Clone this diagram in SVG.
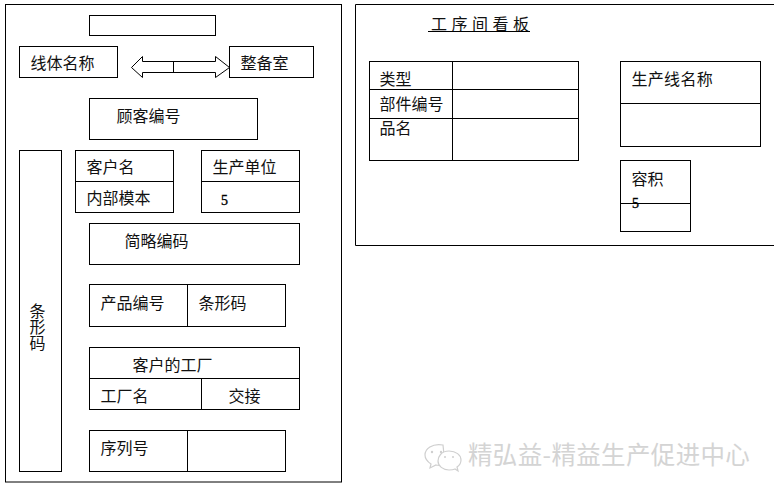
<svg xmlns="http://www.w3.org/2000/svg" width="774" height="493" viewBox="0 0 774 493">
<style>
rect,.l,.a{fill:none;stroke:#000;stroke-width:1}
rect{fill:#fff}
.a{fill:#fff}
text{font-family:"Noto Sans CJK SC","Liberation Sans",sans-serif;font-size:16px;fill:#111}
.n{font-family:"Liberation Serif",serif;font-size:14px;fill:#000;stroke:#000;stroke-width:.35}
.w{font-size:24.5px;fill:#d4d4d4;letter-spacing:.35px}
.i{fill:#fff;stroke:#cfcfcf;stroke-width:1.2}
.d{fill:#cfcfcf}
</style>
<rect width="774" height="493" style="stroke:none"/>
<g id="left-panel"><rect x="5.5" y="4.5" width="336" height="477.5"/></g>
<g id="right-panel"><path class="l" d="M775 4.5H355.5V245.5H775"/></g>
<g id="top-blank"><rect x="89.5" y="15.5" width="126" height="20"/></g>
<g id="line-name"><rect x="19.5" y="46.5" width="98" height="31"/><text x="30.5" y="69">线体名称</text></g>
<g id="prep-room"><rect x="229.5" y="46.5" width="84" height="31"/><text x="240.5" y="69">整备室</text></g>
<g id="connectors"><path class="a" d="M131.5 67.5L142.5 56.5V61.5H215.5V56.5L229.5 67.5L215.5 77.5V72.5H142.5V77.5Z"/><path class="l" d="M173.5 61.5V72.5"/></g>
<g id="customer-no"><rect x="89.5" y="98.5" width="168" height="41"/><text x="116.5" y="122">顾客编号</text></g>
<g id="barcode-side"><rect x="19.5" y="150.5" width="42" height="321"/><text x="37.5" y="303" style="writing-mode:vertical-rl;text-orientation:upright">条形码</text></g>
<g id="customer-name"><rect x="75.5" y="150.5" width="98" height="62"/><path class="l" d="M75.5 181.5H173.5"/><text x="86.5" y="173">客户名</text><text x="86.5" y="204">内部模本</text></g>
<g id="production-unit"><rect x="201.5" y="150.5" width="98" height="62"/><path class="l" d="M201.5 181.5H299.5"/><text x="212.5" y="173">生产单位</text><text class="n" x="221" y="205">5</text></g>
<g id="short-code"><rect x="89.5" y="223.5" width="210" height="41"/><text x="124.5" y="247">简略编码</text></g>
<g id="product-no"><rect x="89.5" y="284.5" width="196" height="42"/><path class="l" d="M187.5 284.5V326.5"/><text x="100.5" y="309">产品编号</text><text x="198.5" y="309">条形码</text></g>
<g id="customer-factory"><rect x="89.5" y="347.5" width="210" height="62"/><path class="l" d="M89.5 378.5H299.5M201.5 378.5V409.5"/><text x="132.5" y="371">客户的工厂</text><text x="100.5" y="402">工厂名</text><text x="228.5" y="402">交接</text></g>
<g id="serial-no"><rect x="89.5" y="430.5" width="196" height="41"/><path class="l" d="M187.5 430.5V471.5"/><text x="100.5" y="454">序列号</text></g>
<g id="title"><text x="431" y="30" style="letter-spacing:4.5px">工序间看板</text><path class="l" d="M428 31.5H530"/></g>
<g id="part-table"><rect x="369.5" y="61.5" width="209" height="99"/><path class="l" d="M369.5 89.5H578.5M369.5 118.5H578.5M452.5 61.5V160.5"/><text x="379.5" y="85">类型</text><text x="379.5" y="110">部件编号</text><text x="379.5" y="134">品名</text></g>
<g id="line-name-2"><rect x="620.5" y="61.5" width="140" height="85"/><path class="l" d="M620.5 103.5H760.5"/><text x="631.5" y="85" style="letter-spacing:.3px">生产线名称</text></g>
<g id="volume"><rect x="620.5" y="160.5" width="70" height="71"/><path class="l" d="M620.5 203.5H690.5"/><text x="631.5" y="185">容积</text><text class="n" x="632" y="208">5</text></g>
<g id="watermark">
<path class="i" d="M443 445C432 443 425 449 425 455C425 459 428 462 431 464L430 468L436 465C440 466 443 465 445 465Z"/>
<path class="i" d="M449 451C441 451 438 457 438 461C438 466 443 470 449 470C451 470 453 470 455 469L458 471L457 467C460 465 461 463 461 460C461 455 456 451 449 451Z"/>
<circle class="d" cx="432" cy="452" r="1.2"/><circle class="d" cx="441" cy="452" r="1.2"/><circle class="d" cx="445" cy="457" r="1"/><circle class="d" cx="453" cy="457" r="1"/>
<text class="w" x="468" y="464">精弘益-精益生产促进中心</text></g>
</svg>
